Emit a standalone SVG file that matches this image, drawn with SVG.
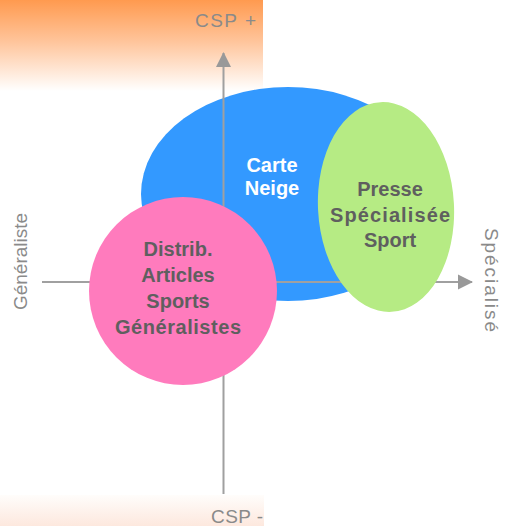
<svg xmlns="http://www.w3.org/2000/svg" width="506" height="526" viewBox="0 0 506 526">
  <defs>
    <linearGradient id="gTop" x1="0" y1="0" x2="0" y2="1">
      <stop offset="0" stop-color="#ff9a4f"/>
      <stop offset="0.45" stop-color="#ffc49a"/>
      <stop offset="1" stop-color="#ffffff"/>
    </linearGradient>
    <linearGradient id="gBot" x1="0" y1="0" x2="0" y2="1">
      <stop offset="0" stop-color="#fffdfb"/>
      <stop offset="1" stop-color="#fde8de"/>
    </linearGradient>
    <marker id="arr" markerWidth="16" markerHeight="16" refX="14" refY="8" orient="auto" markerUnits="userSpaceOnUse">
      <path d="M0,0.5 L15,8 L0,15.5 Z" fill="#999999"/>
    </marker>
  </defs>
  <style>
    .axis { stroke: #a0a0a0; stroke-width: 2; fill: none; }
    .albl { font-family: "Liberation Sans", Arial, sans-serif; font-size: 19px; fill: #8a8a8a; }
    .nlbl { font-family: "Liberation Sans", Arial, sans-serif; font-size: 20px; font-weight: bold; text-anchor: middle; }
    .dark { fill: #5f5f5f; }
    .light { fill: #ffffff; }
  </style>

  <rect x="0" y="0" width="263" height="91" fill="url(#gTop)"/>
  <rect x="0" y="495" width="264" height="31" fill="url(#gBot)"/>

  <g id="carte-neige">
    <ellipse cx="288" cy="194" rx="147" ry="107" fill="#3399ff"/>
  </g>

  <g id="connectors">
    <line class="axis" x1="223.5" y1="494" x2="223.5" y2="53" marker-end="url(#arr)"/>
    <line class="axis" x1="42" y1="282" x2="472" y2="282" marker-end="url(#arr)"/>
  </g>

  <g id="distrib">
    <circle cx="183" cy="291" r="94" fill="#ff7bbd"/>
  </g>

  <g id="presse">
    <ellipse cx="386" cy="207" rx="68" ry="105" fill="#b6eb84" transform="rotate(-3 386 207)"/>
  </g>

  <g id="labels-nodes">
    <text class="nlbl light" x="272" y="172">Carte</text>
    <text class="nlbl light" x="272" y="195">Neige</text>
    <text class="nlbl dark" x="390" y="196">Presse</text>
    <text class="nlbl dark" x="390" y="222" textLength="120" lengthAdjust="spacing">Spécialisée</text>
    <text class="nlbl dark" x="390" y="247">Sport</text>
    <text class="nlbl dark" x="178" y="256">Distrib.</text>
    <text class="nlbl dark" x="178" y="282">Articles</text>
    <text class="nlbl dark" x="178" y="308">Sports</text>
    <text class="nlbl dark" x="178" y="334" textLength="126" lengthAdjust="spacing">Généralistes</text>
  </g>

  <g id="axis-labels">
    <text class="albl" x="195" y="27" textLength="61" lengthAdjust="spacing">CSP +</text>
    <text class="albl" x="211" y="523" textLength="52" lengthAdjust="spacing">CSP -</text>
    <text class="albl" transform="translate(27 310) rotate(-90)" textLength="97" lengthAdjust="spacing">Généraliste</text>
    <text class="albl" transform="translate(485 228) rotate(90)" textLength="104" lengthAdjust="spacing">Spécialisé</text>
  </g>
</svg>
